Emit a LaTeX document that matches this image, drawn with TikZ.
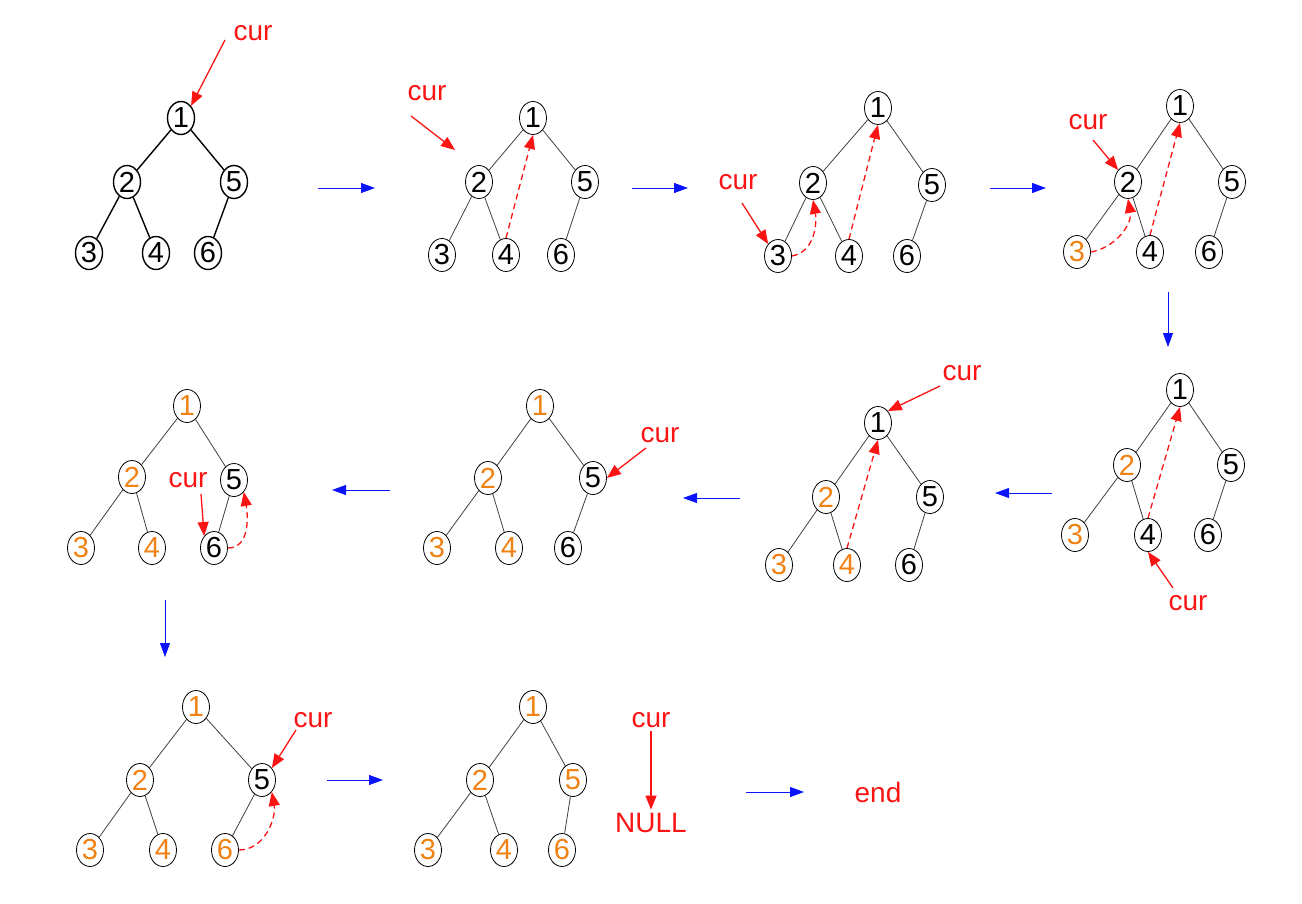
\documentclass[tikz,border=0pt]{standalone}
\usepackage{fontspec}
\setmainfont{Liberation Sans}
\usetikzlibrary{shapes.geometric,arrows.meta}
\definecolor{og}{RGB}{240,130,20}
\definecolor{rd}{RGB}{250,20,20}
\definecolor{bl}{RGB}{10,20,250}
\begin{document}
\begin{tikzpicture}[x=1pt,y=-1pt,
 n/.style={draw,ellipse,minimum width=27pt,minimum height=33pt,inner sep=0pt,font=\fontsize{29}{29}\selectfont,line width=0.8pt},
 o/.style={n,text=og},
 e/.style={line width=0.8pt,black!75},
 eb/.style={line width=1.4pt},
 lab/.style={text=rd,font=\fontsize{28}{28}\selectfont},
 ra/.style={rd,line width=1.3pt,-{Triangle[length=14pt,width=11pt]}},
 da/.style={rd,line width=1.3pt,dash pattern=on 6pt off 4pt,-{Triangle[length=14pt,width=11pt]}},
 ba/.style={bl,line width=0.9pt,-{Triangle[length=14pt,width=10pt]}}]
\useasboundingbox (0,0) rectangle (1302,904);
% Tree A
\node[n,line width=1.4pt] (a1) at (181,118) {1};
\node[n,line width=1.4pt] (a2) at (127,182) {2};
\node[n,line width=1.4pt] (a5) at (234,182) {5};
\node[n,line width=1.4pt] (a3) at (89,253) {3};
\node[n,line width=1.4pt] (a4) at (156,253) {4};
\node[n,line width=1.4pt] (a6) at (208,253) {6};
\draw[eb] (a1)--(a2) (a1)--(a5) (a2)--(a3) (a2)--(a4) (a5)--(a6);
\node[lab] (la) at (253,33) {cur};
\coordinate (pa) at (225,40);
\draw[ra] (pa)--(a1.north east);
\coordinate (ab1) at (318,188); \coordinate (ab2) at (375,188);
\draw[ba] (ab1)--(ab2);
% Tree B
\node[n] (b1) at (533,118) {1};
\node[n] (b2) at (479,182) {2};
\node[n] (b5) at (585,182) {5};
\node[n] (b3) at (442,255) {3};
\node[n] (b4) at (506,255) {4};
\node[n] (b6) at (561,255) {6};
\draw[e] (b1)--(b2) (b1)--(b5) (b2)--(b3) (b2)--(b4) (b5)--(b6);
\node[lab] (lb) at (427,93) {cur};
\coordinate (pb) at (411,116); \coordinate (qb) at (455,150);
\draw[ra] (pb)--(qb);
\draw[da] (b4.north)--(b1.south);
\coordinate (bc1) at (632,188); \coordinate (bc2) at (688,188);
\draw[ba] (bc1)--(bc2);
% Tree C
\node[n] (c1) at (878,108) {1};
\node[n] (c2) at (813,183) {2};
\node[n] (c5) at (932,185) {5};
\node[n] (c3) at (778,256) {3};
\node[n] (c4) at (849,256) {4};
\node[n] (c6) at (907,256) {6};
\draw[e] (c1)--(c2) (c1)--(c5) (c2)--(c3) (c2)--(c4) (c5)--(c6);
\node[lab] (lc) at (738,182) {cur};
\coordinate (pc) at (742,203);
\draw[ra] (pc)--(c3.north west);
\draw[da] (c3.east) to[out=10,in=-80] (c2.south);
\draw[da] (c4.north)--(c1.south);
\coordinate (cd1) at (990,188); \coordinate (cd2) at (1046,188);
\draw[ba] (cd1)--(cd2);
% Tree D
\node[n] (d1) at (1180,106) {1};
\node[n] (d2) at (1128,182) {2};
\node[n] (d5) at (1232,182) {5};
\node[o] (d3) at (1077,252) {3};
\node[n] (d4) at (1150,252) {4};
\node[n] (d6) at (1209,252) {6};
\draw[e] (d1)--(d2) (d1)--(d5) (d2)--(d3) (d2)--(d4) (d5)--(d6);
\node[lab] (ld) at (1088,122) {cur};
\coordinate (pd) at (1093,140);
\draw[ra] (pd)--(d2.north west);
\draw[da] (d3.east) to[out=10,in=-80] (d2.south);
\draw[da] (d4.north)--(d1.south);
\coordinate (de1) at (1168,292); \coordinate (de2) at (1168,347);
\draw[ba] (de1)--(de2);
% Tree E
\node[n] (e1) at (1180,390) {1};
\node[o] (e2) at (1127,465) {2};
\node[n] (e5) at (1231,465) {5};
\node[o] (e3) at (1075,535) {3};
\node[n] (e4) at (1148,535) {4};
\node[n] (e6) at (1208,535) {6};
\draw[e] (e1)--(e2) (e1)--(e5) (e2)--(e3) (e2)--(e4) (e5)--(e6);
\node[lab] (le) at (1188,603) {cur};
\coordinate (pe) at (1173,588);
\draw[ra] (pe)--(e4.south);
\draw[da] (e4.north)--(e1.south);
\coordinate (ef1) at (1052,493); \coordinate (ef2) at (995,493);
\draw[ba] (ef1)--(ef2);
% Tree F
\node[n] (f1) at (878,423) {1};
\node[o] (f2) at (826,497) {2};
\node[n] (f5) at (930,497) {5};
\node[o] (f3) at (779,565) {3};
\node[o] (f4) at (847,565) {4};
\node[n] (f6) at (909,565) {6};
\draw[e] (f1)--(f2) (f1)--(f5) (f2)--(f3) (f2)--(f4) (f5)--(f6);
\node[lab] (lf) at (962,373) {cur};
\coordinate (pf) at (940,386);
\draw[ra] (pf)--(f1.north east);
\draw[da] (f4.north)--(f1.south);
\coordinate (fg1) at (740,498); \coordinate (fg2) at (683,498);
\draw[ba] (fg1)--(fg2);
% Tree G
\node[o] (g1) at (540,406) {1};
\node[o] (g2) at (488,478) {2};
\node[n] (g5) at (593,478) {5};
\node[o] (g3) at (437,548) {3};
\node[o] (g4) at (509,548) {4};
\node[n] (g6) at (568,548) {6};
\draw[e] (g1)--(g2) (g1)--(g5) (g2)--(g3) (g2)--(g4) (g5)--(g6);
\node[lab] (lg) at (660,435) {cur};
\coordinate (pg) at (646,448);
\draw[ra] (pg)--(g5.east);
\coordinate (gh1) at (390,490); \coordinate (gh2) at (332,490);
\draw[ba] (gh1)--(gh2);
% Tree H
\node[o] (h1) at (187,406) {1};
\node[o] (h2) at (132,477) {2};
\node[n] (h5) at (234,480) {5};
\node[o] (h3) at (81,548) {3};
\node[o] (h4) at (152,548) {4};
\node[n] (h6) at (214,548) {6};
\draw[e] (h1)--(h2) (h1)--(h5) (h2)--(h3) (h2)--(h4) (h5)--(h6);
\node[lab] (lh) at (188,480) {cur};
\coordinate (ph) at (201,494);
\draw[ra] (ph)--(h6.north west);
\draw[da] (h6.east) to[out=0,in=-80] (h5.south east);
\coordinate (hi1) at (165,600); \coordinate (hi2) at (165,657);
\draw[ba] (hi1)--(hi2);
% Tree I
\node[o] (i1) at (196,707) {1};
\node[o] (i2) at (140,780) {2};
\node[n] (i5) at (262,780) {5};
\node[o] (i3) at (90,850) {3};
\node[o] (i4) at (163,850) {4};
\node[o] (i6) at (225,850) {6};
\draw[e] (i1)--(i2) (i1)--(i5) (i2)--(i3) (i2)--(i4) (i5)--(i6);
\node[lab] (li) at (313,720) {cur};
\coordinate (pi) at (296,730);
\draw[ra] (pi)--(i5.north east);
\draw[da] (i6.east) to[out=0,in=-80] (i5.south east);
\coordinate (ij1) at (327,780); \coordinate (ij2) at (383,780);
\draw[ba] (ij1)--(ij2);
% Tree J
\node[o] (j1) at (533,707) {1};
\node[o] (j2) at (480,780) {2};
\node[o] (j5) at (573,780) {5};
\node[o] (j3) at (428,850) {3};
\node[o] (j4) at (504,850) {4};
\node[o] (j6) at (562,850) {6};
\draw[e] (j1)--(j2) (j1)--(j5) (j2)--(j3) (j2)--(j4) (j5)--(j6);
\node[lab] (lj) at (651,720) {cur};
\node[lab] (nul) at (651,823) {NULL};
\draw[ra] (lj.south)--(nul.north);
\node[lab] (en) at (878,792) {end};
\coordinate (jk1) at (746,792); \coordinate (jk2) at (804,792);
\draw[ba] (jk1)--(jk2);
\end{tikzpicture}
\end{document}
